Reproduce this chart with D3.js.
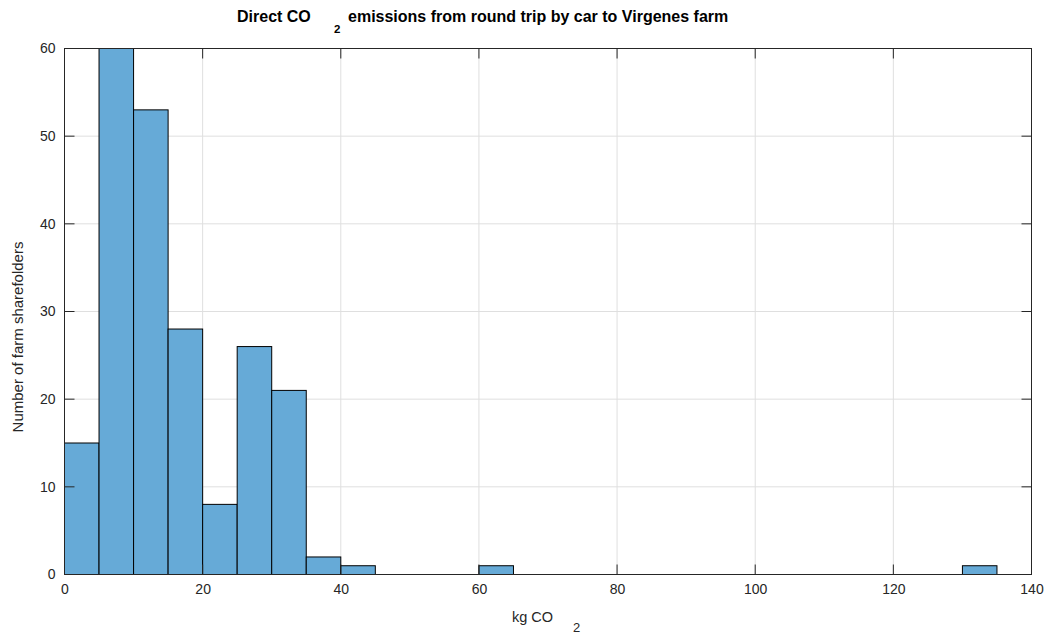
<!DOCTYPE html>
<html><head><meta charset="utf-8">
<script src="https://cdn.jsdelivr.net/npm/d3@7"></script>
<style>body{margin:0;background:#fff;} text{font-family:"Liberation Sans",Arial,Helvetica,sans-serif;}</style>
</head><body>
<svg id="c" width="1047" height="637"></svg>
<script>
const binEdges = [0,5,10,15,20,25,30,35,40,45,50,55,60,65,70,75,80,85,90,95,100,105,110,115,120,125,130,135];
const counts = [15,60,53,28,8,26,21,2,1,0,0,0,1,0,0,0,0,0,0,0,0,0,0,0,0,0,1];
const xTicks = [0,20,40,60,80,100,120,140];
const yTicks = [0,10,20,30,40,50,60];

const svg = d3.select("#c");
const L=64.5, R=1031.5, T=48.5, B=574.5;
const x = d3.scaleLinear().domain([0,140]).range([L,R]);
const y = d3.scaleLinear().domain([0,60]).range([B,T]);
const axisCol = "#262626";

// grid
svg.append("g").selectAll("line.gx").data(xTicks).join("line")
  .attr("x1",d=>x(d)).attr("x2",d=>x(d)).attr("y1",T).attr("y2",B)
  .attr("stroke","#dfdfdf").attr("stroke-width",1);
svg.append("g").selectAll("line.gy").data(yTicks).join("line")
  .attr("y1",d=>y(d)).attr("y2",d=>y(d)).attr("x1",L).attr("x2",R)
  .attr("stroke","#dfdfdf").attr("stroke-width",1);

// bars
const bins = counts.map((c,i)=>({x0:binEdges[i],x1:binEdges[i+1],c}));
svg.append("g").selectAll("rect").data(bins).join("rect")
  .attr("x",d=>x(d.x0)).attr("width",d=>x(d.x1)-x(d.x0))
  .attr("y",d=>y(d.c)).attr("height",d=>y(0)-y(d.c))
  .attr("fill","rgb(102,170,215)").attr("stroke","#000").attr("stroke-width",1);

// axes box
const box = svg.append("g");
box.append("rect").attr("x",L).attr("y",T).attr("width",R-L).attr("height",B-T)
  .attr("fill","none").attr("stroke",axisCol).attr("stroke-width",1);
const tl = 10;
const gx = svg.append("g").attr("transform",`translate(0,${B})`)
  .call(d3.axisBottom(x).tickValues(xTicks).tickSize(0).tickPadding(10).tickFormat(d3.format("d")));
gx.select(".domain").remove();
gx.selectAll("text").attr("font-size",14).attr("fill",axisCol);
svg.append("g").selectAll("line").data(xTicks).join("line")
  .attr("x1",d=>x(d)).attr("x2",d=>x(d)).attr("y1",B).attr("y2",B-tl).attr("stroke",axisCol);
svg.append("g").selectAll("line").data(xTicks).join("line")
  .attr("x1",d=>x(d)).attr("x2",d=>x(d)).attr("y1",T).attr("y2",T+tl).attr("stroke",axisCol);
const gy = svg.append("g").attr("transform",`translate(${L},0)`)
  .call(d3.axisLeft(y).tickValues(yTicks).tickSize(0).tickPadding(9).tickFormat(d3.format("d")));
gy.select(".domain").remove();
gy.selectAll("text").attr("font-size",14).attr("fill",axisCol);
svg.append("g").selectAll("line").data(yTicks).join("line")
  .attr("y1",d=>y(d)).attr("y2",d=>y(d)).attr("x1",L).attr("x2",L+tl).attr("stroke",axisCol);
svg.append("g").selectAll("line").data(yTicks).join("line")
  .attr("y1",d=>y(d)).attr("y2",d=>y(d)).attr("x1",R).attr("x2",R-tl).attr("stroke",axisCol);

// title
const title = svg.append("text").attr("y",22).attr("font-size",16).attr("font-weight","bold").attr("fill","#000");
title.append("tspan").attr("x",237).text("Direct CO");
title.append("tspan").attr("x",334).attr("y",33).attr("font-size",11.5).text("2");
title.append("tspan").attr("x",348).attr("y",22).text("emissions from round trip by car to Virgenes farm");

// x label
const xl = svg.append("text").attr("y",621.5).attr("font-size",14.5).attr("fill",axisCol);
xl.append("tspan").attr("x",512).text("kg CO");
xl.append("tspan").attr("x",573).attr("y",631.5).attr("font-size",13).text("2");

// y label
svg.append("text").attr("transform","translate(23,337) rotate(-90)").attr("text-anchor","middle")
  .attr("font-size",15).attr("fill",axisCol).text("Number of farm sharefolders");
</script>
</body></html>
